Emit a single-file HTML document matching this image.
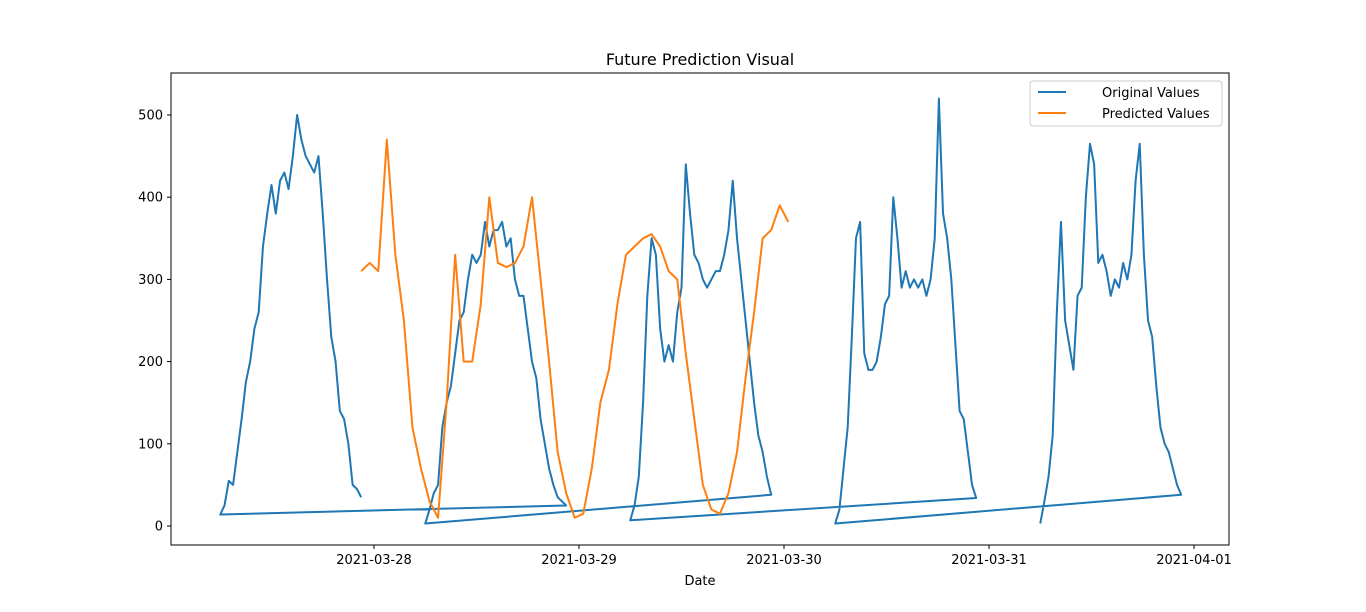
<!DOCTYPE html>
<html><head><meta charset="utf-8"><style>
body{margin:0;background:#fff;}
svg{display:block;font-family:"DejaVu Sans","Liberation Sans",sans-serif;}
</style></head><body>
<svg id="chart" width="1366" height="612">
<rect width="1366" height="612" fill="#fff"/>
<text x="700" y="65" text-anchor="middle" font-size="16">Future Prediction Visual</text>
<text x="700" y="585" text-anchor="middle" font-size="13">Date</text>
<g id="ticks"></g>
<g id="series"></g>
<rect x="171" y="73" width="1058" height="472" fill="none" stroke="#000" stroke-width="1"/>
<g>
<rect x="1030" y="81" width="192" height="45" rx="3" fill="#fff" stroke="#ccc"/>
<line x1="1038" y1="92" x2="1066" y2="92" stroke="#1f77b4" stroke-width="2"/>
<text x="1102" y="97" font-size="13">Original Values</text>
<line x1="1038" y1="113" x2="1066" y2="113" stroke="#ff7f0e" stroke-width="2"/>
<text x="1102" y="118" font-size="13">Predicted Values</text>
</g>
</svg>
<script>
const yTicks=[0,100,200,300,400,500];
const xTickLabels=["2021-03-28","2021-03-29","2021-03-30","2021-03-31","2021-04-01"];
// blue: hours since 2021-03-28 00:00 of day start, half-hour samples 06:00..22:30
const dayStarts=[-18,6,30,54,78];
const dayA=[14,25,55,50,90,130,175,200,240,260,340,380,415,380,420,430,410,450,500,470,450,440,430,450,380,300,230,200,140,130,100,50,45,35];
const dayB=[3,20,40,50,120,150,170,210,250,260,300,330,320,330,370,340,360,360,370,340,350,300,280,280,240,200,180,130,100,70,50,35,30,25];
const dayC=[7,25,60,150,280,350,330,240,200,220,200,260,290,440,380,330,320,300,290,300,310,310,330,360,420,350,300,250,200,150,110,90,60,38];
const dayD=[3,20,70,120,230,350,370,210,190,190,200,230,270,280,400,350,290,310,290,300,290,300,280,300,350,520,380,350,300,220,140,130,90,50,34];
const dayE=[3,30,60,110,260,370,250,220,190,280,290,400,465,440,320,330,310,280,300,290,320,300,330,420,465,330,250,230,170,120,100,90,70,50,38];
// orange: hourly from 2021-03-27 22:30
const predStart=-1.5;
const predicted=[310,320,310,470,330,250,120,70,30,10,150,330,200,200,270,400,320,315,320,340,400,300,200,90,40,10,15,70,150,190,270,330,340,350,355,340,310,300,210,130,50,20,15,40,90,180,260,350,360,390,370];

const NS="http://www.w3.org/2000/svg";
const xS=h=>374+h*205/24;
const yS=v=>526-v*0.822;
const tg=document.getElementById('ticks'), sg=document.getElementById('series');
function mk(tag,attrs,parent){const e=document.createElementNS(NS,tag);for(const k in attrs)e.setAttribute(k,attrs[k]);parent.appendChild(e);return e;}
yTicks.forEach(v=>{
  const l=mk('line',{x1:167,x2:171,y1:yS(v),y2:yS(v),stroke:'#000'},tg);
  
  
  const t=mk('text',{x:163,y:yS(v)+4.5,'text-anchor':'end','font-size':13},tg);
  
  
  t.textContent=v;
});
xTickLabels.forEach((s,i)=>{
  const x=xS(i*24);
  const l=mk('line',{x1:x,x2:x,y1:545,y2:549,stroke:'#000'},tg);
  
  
  const t=mk('text',{x:x,y:564,'text-anchor':'middle','font-size':13},tg);
  
  
  t.textContent=s;
});
// blue: each day reversed in time, days in order
const days=[dayA,dayB,dayC,dayD,dayE];
let pts=[];
days.forEach((d,i)=>{
  const n=d.length, span=16.5;
  for(let j=n-1;j>=0;j--){pts.push([xS(dayStarts[i]+j*span/(n-1)),yS(d[j])]);}
});
const bl=mk('polyline',{points:pts.map(p=>p.join(',')).join(' '),fill:'none',stroke:'#1f77b4','stroke-width':2,'stroke-linejoin':'round'},sg);


const op=predicted.map((v,i)=>[xS(predStart+i),yS(v)].join(',')).join(' ');
const ol=mk('polyline',{points:op,fill:'none',stroke:'#ff7f0e','stroke-width':2,'stroke-linejoin':'round'},sg);


</script>
</body></html>
